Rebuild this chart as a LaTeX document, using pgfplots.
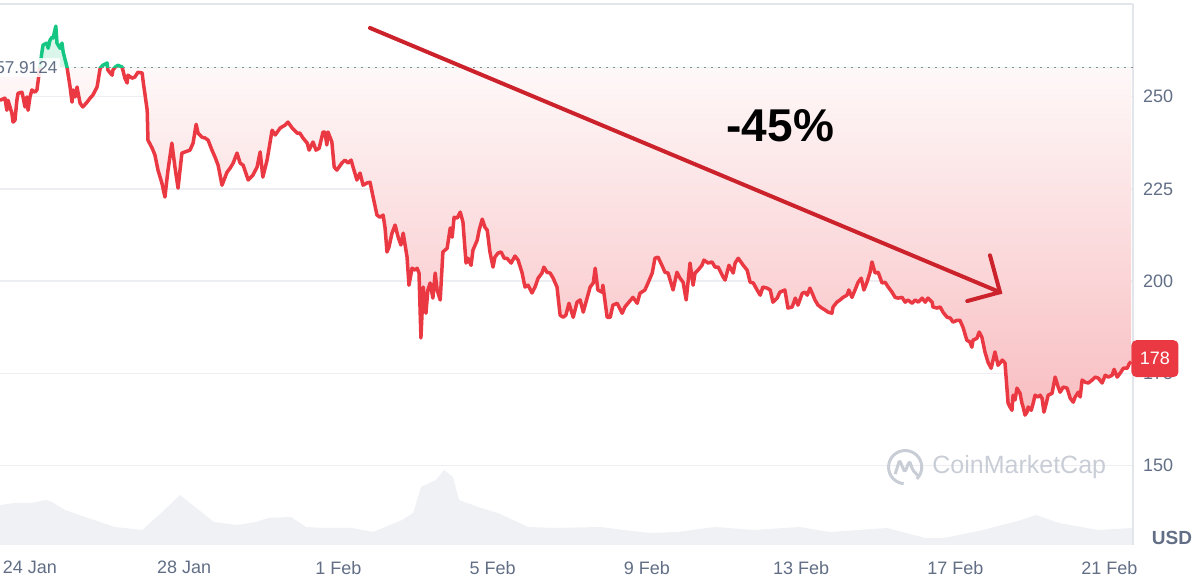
\documentclass[border=0pt]{standalone}
\usepackage{pgfplots}
\pgfplotsset{compat=1.18}
\usepackage{pgfplotstable}
\usepackage{fontspec}
\setmainfont{Liberation Sans}
\definecolor{cmcred}{RGB}{234,57,67}
\definecolor{cmcgreen}{RGB}{22,199,132}
\definecolor{axgray}{RGB}{97,110,133}
\definecolor{gridc}{RGB}{236,238,242}
\definecolor{borderc}{RGB}{226,229,234}
\definecolor{volc}{RGB}{239,241,245}
\definecolor{wm}{RGB}{200,205,214}
\definecolor{arrowred}{RGB}{204,34,44}

\pgfplotstableread{
x y
-0.78 249.0
-0.65 249.6
-0.60 246.3
-0.57 249.0
-0.47 245.5
-0.44 243.1
-0.39 243.6
-0.34 249.0
-0.31 250.9
-0.21 251.2
-0.18 249.9
-0.13 247.2
-0.08 249.9
-0.05 246.3
0.00 249.9
0.05 251.8
0.13 251.2
0.18 251.8
0.31 262.1
0.34 264.0
0.44 264.5
0.47 263.1
0.52 265.3
0.57 266.1
0.60 265.9
0.67 269.1
0.70 264.5
0.78 263.1
0.83 264.5
0.86 262.1
0.96 258.0
1.04 252.6
1.09 248.5
1.12 251.8
1.17 249.9
1.22 252.6
1.25 250.9
1.30 248.2
1.37 247.2
1.48 248.5
1.56 249.6
1.63 250.4
1.74 252.6
1.82 257.7
1.89 258.5
2.00 259.1
2.02 257.2
2.13 255.8
2.15 257.2
2.21 258.0
2.28 258.5
2.39 258.0
2.46 255.0
2.52 253.7
2.54 255.8
2.65 255.0
2.72 255.3
2.80 256.6
2.91 256.4
2.93 254.5
3.04 246.3
3.06 238.2
3.17 236.0
3.24 234.2
3.32 230.1
3.42 226.6
3.50 222.8
3.55 227.4
3.58 230.1
3.68 237.4
3.76 230.9
3.84 225.2
3.94 234.7
4.02 235.0
4.15 235.5
4.23 237.4
4.31 242.5
4.36 240.1
4.46 239.0
4.54 238.8
4.62 238.2
4.72 235.5
4.80 233.6
4.88 231.4
4.98 226.0
5.11 229.5
5.19 230.6
5.27 232.0
5.37 234.7
5.45 232.0
5.53 231.4
5.66 227.4
5.78 228.7
5.89 230.9
5.97 235.0
6.04 228.2
6.15 232.8
6.28 240.9
6.36 239.6
6.49 241.5
6.62 242.3
6.69 243.1
6.80 241.5
6.93 240.1
7.00 240.1
7.08 238.8
7.19 237.4
7.24 235.5
7.34 237.7
7.42 235.5
7.50 236.0
7.60 240.4
7.65 240.4
7.70 236.9
7.73 240.4
7.83 237.7
7.89 230.9
7.96 230.1
8.09 232.0
8.17 232.8
8.25 232.0
8.33 232.8
8.38 230.9
8.48 227.4
8.56 229.3
8.64 226.0
8.74 226.6
8.82 226.8
8.90 222.8
9.00 217.9
9.08 217.3
9.16 217.9
9.21 214.4
9.26 207.9
9.31 209.2
9.39 213.0
9.47 215.2
9.55 211.9
9.62 209.8
9.68 213.0
9.78 206.5
9.83 198.9
9.91 203.5
9.99 203.0
10.04 203.5
10.09 202.2
10.14 184.6
10.20 198.4
10.27 191.3
10.32 197.6
10.38 199.5
10.45 195.4
10.51 202.2
10.56 197.6
10.64 194.9
10.71 207.9
10.82 208.9
10.90 214.4
10.95 211.9
11.00 217.3
11.08 217.1
11.16 218.7
11.23 216.0
11.31 204.9
11.36 206.2
11.44 204.3
11.49 208.4
11.60 211.1
11.65 213.8
11.73 216.8
11.80 214.6
11.86 213.8
11.93 207.9
12.01 203.8
12.06 206.5
12.14 207.6
12.22 207.9
12.30 206.2
12.37 206.2
12.48 204.9
12.58 206.8
12.66 205.7
12.76 202.4
12.84 198.4
12.92 198.9
13.02 196.8
13.10 198.4
13.18 200.8
13.28 202.2
13.33 203.8
13.41 202.4
13.49 202.2
13.57 200.8
13.67 198.4
13.75 190.8
13.83 190.2
13.90 190.8
13.98 194.0
14.09 190.2
14.19 194.3
14.27 194.9
14.35 191.6
14.45 195.4
14.53 198.4
14.61 199.5
14.66 203.5
14.73 197.6
14.84 197.0
14.86 198.9
14.97 190.2
15.05 190.2
15.12 193.5
15.23 194.0
15.36 191.3
15.43 193.0
15.51 194.0
15.64 195.6
15.75 194.0
15.82 196.7
15.95 197.6
16.03 199.5
16.14 202.2
16.21 206.2
16.29 206.5
16.39 204.3
16.47 202.4
16.55 202.2
16.68 197.6
16.78 202.4
16.86 200.8
16.94 199.7
17.02 194.9
17.12 204.9
17.20 198.9
17.25 202.2
17.33 203.0
17.43 204.3
17.48 205.7
17.59 204.9
17.69 205.2
17.77 203.8
17.85 203.8
17.98 201.1
18.03 200.3
18.13 204.3
18.24 202.2
18.29 204.9
18.37 206.2
18.50 204.3
18.60 203.0
18.68 199.7
18.76 199.5
18.86 197.6
18.94 196.2
19.01 198.4
19.12 198.1
19.20 197.6
19.27 194.3
19.38 195.4
19.45 197.0
19.58 197.6
19.66 192.7
19.77 193.0
19.85 195.4
19.92 193.5
20.03 196.7
20.10 197.0
20.16 196.2
20.23 198.1
20.31 196.2
20.36 194.9
20.44 193.5
20.54 192.7
20.62 192.2
20.70 191.6
20.80 191.3
20.83 193.0
20.93 194.3
21.01 194.9
21.09 195.6
21.19 196.2
21.24 197.6
21.32 195.6
21.40 197.6
21.48 199.7
21.56 200.8
21.63 197.6
21.71 199.7
21.79 202.4
21.84 205.2
21.92 202.2
22.00 202.4
22.10 199.5
22.18 199.7
22.26 198.4
22.36 197.0
22.44 195.6
22.52 195.4
22.62 195.6
22.70 194.3
22.77 194.9
22.88 194.0
22.96 194.9
23.04 194.3
23.14 195.4
23.22 194.3
23.29 195.4
23.40 194.3
23.42 193.0
23.53 192.7
23.61 193.0
23.68 191.6
23.79 190.2
23.87 190.0
23.94 188.9
24.05 189.4
24.12 189.4
24.20 187.5
24.30 184.0
24.38 183.5
24.43 182.1
24.46 184.0
24.56 184.5
24.62 186.2
24.69 184.8
24.77 180.8
24.85 178.0
24.93 176.4
24.98 178.6
25.03 180.8
25.11 177.2
25.22 178.6
25.29 177.8
25.37 166.9
25.42 165.9
25.47 165.0
25.50 169.1
25.55 167.8
25.60 171.0
25.68 169.6
25.73 166.9
25.76 165.9
25.81 163.7
25.86 164.5
25.89 165.9
25.97 165.0
26.02 166.9
26.07 169.1
26.15 168.6
26.20 169.1
26.25 168.3
26.30 164.5
26.36 166.9
26.41 169.1
26.51 169.6
26.59 174.0
26.67 171.3
26.72 169.9
26.80 171.3
26.90 171.0
26.98 168.3
27.06 167.2
27.11 168.6
27.19 169.9
27.24 168.6
27.29 173.2
27.37 172.6
27.45 172.4
27.55 173.2
27.63 174.0
27.71 173.7
27.81 172.4
27.89 174.5
27.97 174.0
28.07 174.5
28.12 176.1
28.20 174.0
28.28 175.1
28.36 176.4
28.46 176.4
28.51 177.6
28.56 178.2
}\price

\pgfplotstableread{
x v
-0.78 40
-0.39 42
0.03 42
0.42 45
0.57 43
0.91 35
1.50 27
2.20 18
2.91 15
3.40 32
3.89 50
4.38 35
4.77 23
5.37 20
5.86 23
6.17 27
6.77 28
7.16 18
7.65 17
8.35 17
8.90 13
9.65 25
9.94 32
10.14 58
10.53 65
10.74 75
10.97 68
11.13 45
11.62 38
12.14 32
12.92 18
13.62 17
14.79 18
15.38 15
16.08 12
16.78 13
17.77 18
18.76 15
19.95 18
20.75 13
22.23 17
23.22 7
23.71 7
24.72 15
25.71 25
26.10 30
26.69 22
27.70 15
28.61 17
}\volume

\begin{document}
\begin{tikzpicture}
\useasboundingbox (0,0) rectangle (600pt,291.5pt);
% volume (own scale)
\begin{axis}[at={(0pt,19pt)}, anchor=south west, scale only axis,
  width=566.5pt, height=270.5pt,
  xmin=-0.778, xmax=28.61, ymin=0, ymax=541, hide axis]
\addplot[fill=volc, draw=none] table[x=x,y=v] {\volume} \closedcycle;
\end{axis}
% price
\begin{axis}[at={(0pt,19pt)}, anchor=south west, scale only axis,
  width=566.5pt, height=270.5pt,
  xmin=-0.778, xmax=28.61, ymin=128.5, ymax=275.1, clip=false,
  axis line style={draw=none},
  major tick length=0pt,
  xtick={0,4,...,28},
  xticklabels={24 Jan,28 Jan,1 Feb,5 Feb,9 Feb,13 Feb,17 Feb,21 Feb},
  ytick={150,175,200,225,250},
  yticklabel pos=right,
  ymajorgrids, grid style={gridc, line width=0.7pt},
  ticklabel style={font=\fontsize{9}{10}\selectfont, text=axgray},
  /pgf/number format/assume math mode=true,
  xticklabel style={yshift=-4.5pt},
  yticklabel style={xshift=1.5pt},
]
% borders
\draw[borderc, line width=0.7pt] (rel axis cs:0,1) -- (rel axis cs:1,1);
\draw[borderc, line width=0.7pt] (rel axis cs:1,0) -- (rel axis cs:1,1);

% red part (below the opening price)
\begin{scope}
\clip (axis cs:-0.778,128.5) rectangle (axis cs:28.61,257.9124);
\addplot[draw=none, top color=white, bottom color=cmcred!33] table[x=x,y=y] {\price}
   -- (axis cs:28.56,257.9124) -- (axis cs:-0.78,257.9124) -- cycle;
\addplot[cmcred, line width=1.75pt, line join=round] table[x=x,y=y] {\price};
\end{scope}
% green part (above the opening price)
\begin{scope}
\clip (axis cs:-0.778,257.9124) rectangle (axis cs:28.61,275.1);
\addplot[draw=none, fill=cmcgreen!16] table[x=x,y=y] {\price}
   -- (axis cs:28.56,257.9124) -- (axis cs:-0.78,257.9124) -- cycle;
\addplot[cmcgreen, line width=1.75pt, line join=round] table[x=x,y=y] {\price};
\end{scope}

% opening price reference line and label
\addplot[black!45, dash pattern=on 0.9pt off 2.6pt, line width=0.8pt] coordinates {(1.14,257.9124) (28.61,257.9124)};
\node[anchor=east, fill=white, fill opacity=0.85, text opacity=1, inner sep=1.5pt,
      font=\fontsize{8.6}{10}\selectfont, text=axgray] at (axis cs:0.80,257.9124) {257.9124};

% annotation arrow and text
\draw[arrowred, line width=2pt, line cap=round] (axis cs:8.82,268.6) -- (axis cs:25.16,197.0);
\draw[arrowred, line width=2pt, line cap=round, line join=miter]
   (axis cs:24.90,207.0) -- (axis cs:25.16,197.0) -- (axis cs:24.31,194.6);
\node[font=\fontsize{23}{26}\selectfont\bfseries, text=black] at (axis cs:19.46,242.2) {-45\%};

% watermark
\node[text=wm, font=\fontsize{12.5}{14}\selectfont] at (axis cs:25.66,149.6) {CoinMarketCap};
\draw[wm, line width=1.5pt] ([shift={(-45:8.3pt)}]axis cs:22.70,149.6) arc (-45:265:8.3pt);
\draw[wm, line width=1.5pt, line join=round, rounded corners=0.8pt]
   ([shift={(-5pt,-3.5pt)}]axis cs:22.70,149.6) -- ++(2.2pt,7pt) -- ++(2.6pt,-6pt)
   -- ++(2.4pt,5.5pt) -- ++(1.6pt,-4.5pt) -- ++(2.8pt,-3pt);

% last price badge
\node[fill=cmcred, text=white, rounded corners=2.5pt, minimum width=23.5pt, minimum height=18.5pt,
      anchor=west, inner sep=0pt, font=\fontsize{9}{10}\selectfont]
      at (axis cs:28.56,179.0) {178};
% currency
\node[font=\fontsize{9.5}{10}\selectfont\bfseries, text=axgray] at (axis cs:29.62,130.4) {USD};
\end{axis}
\end{tikzpicture}
\end{document}
